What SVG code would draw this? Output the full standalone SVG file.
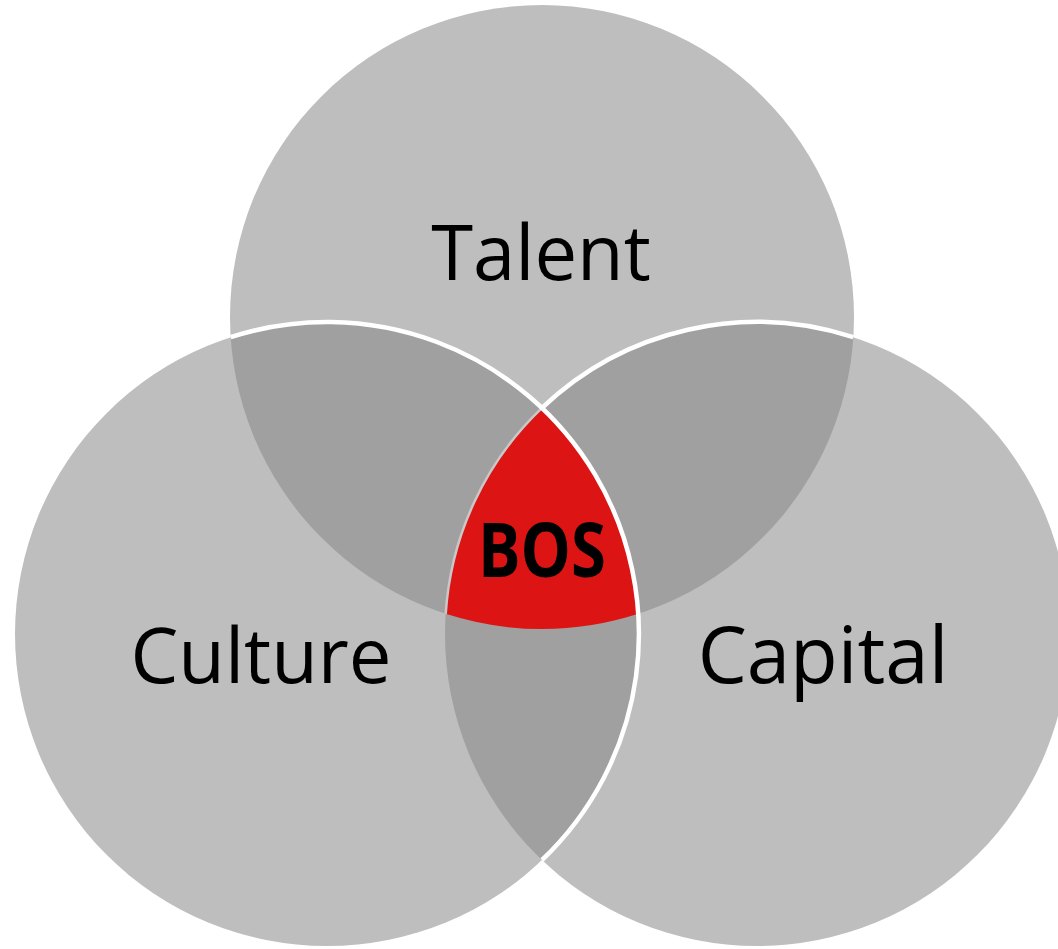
<svg xmlns="http://www.w3.org/2000/svg" width="1058" height="949" viewBox="0 0 1058 949">
<style>
.base{fill:#bebebe}
.ov{fill:#a0a0a0}
.lbl{font-family:"Open Sans","Noto Sans","DejaVu Sans",sans-serif;font-size:76px;fill:#000;text-anchor:middle}
.bos{font-family:"Open Sans","Noto Sans","DejaVu Sans",sans-serif;font-size:76px;font-weight:bold;fill:#000;text-anchor:middle}
.edge{fill:none;stroke:#fff;stroke-width:4.5}
</style>
<defs>
<clipPath id="cT"><circle cx="542" cy="317" r="312"/></clipPath>
<clipPath id="cL"><circle cx="327" cy="634" r="312"/></clipPath>
</defs>
<rect width="1058" height="949" fill="#fff"/>
<g id="talent">
<circle class="base" cx="542" cy="317" r="312"/>
</g>
<g id="culture">
<circle class="base" cx="327" cy="634" r="312"/>
<circle class="ov" cx="327" cy="634" r="312" clip-path="url(#cT)"/>
</g>
<g id="capital">
<circle class="base" cx="757" cy="634" r="312"/>
<circle class="ov" cx="757" cy="634" r="312" clip-path="url(#cT)"/>
<circle class="ov" cx="757" cy="634" r="312" clip-path="url(#cL)"/>
</g>
<g id="bos">
<path fill="#dc1414" d="M542,407.9 A312,312 0 0 1 638.3,613.8 A312,312 0 0 1 445.7,613.8 A312,312 0 0 1 542,407.9 Z"/>
</g>
<g id="edges">
<path d="M542,407.9 A312,312 0 0 0 445.7,613.8" fill="none" stroke="#c8c8c8" stroke-width="2.5"/>
<path class="edge" d="M230.7,337.2 A312,312 0 0 1 542,860"/>
<path class="edge" d="M853.3,337.2 A312,312 0 0 0 542,407.9"/>
</g>
<g id="labels">
<text class="lbl" x="541" y="280">Talent</text>
<text class="lbl" x="261" y="683">Culture</text>
<text class="lbl" x="823" y="683" style="font-size:78px">Capital</text>
<text class="bos" x="542" y="577" textLength="128" lengthAdjust="spacingAndGlyphs">BOS</text>
</g>
</svg>
